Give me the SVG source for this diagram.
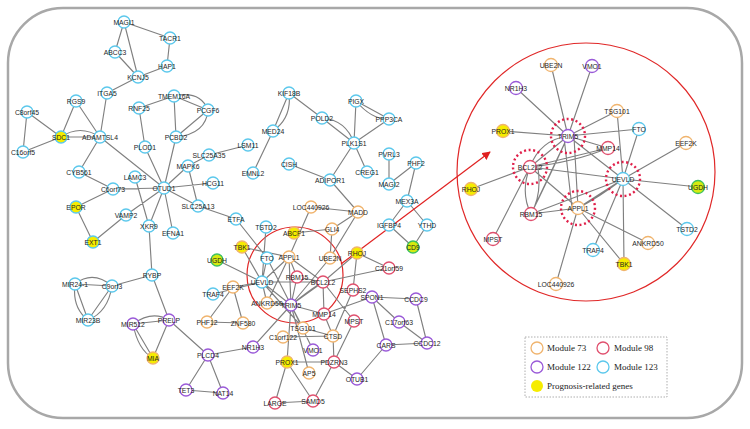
<svg xmlns="http://www.w3.org/2000/svg" width="750" height="429" viewBox="0 0 750 429">
<defs>
<style>
.e{stroke:#808080;stroke-width:1.15;fill:none}
.n{stroke-width:1.3;fill:#fff}
.c{stroke:#5cc8ec}.o{stroke:#f0b46e}.r{stroke:#e0506e}.p{stroke:#9a5ad8}
.y{fill:#f6ec00}.g{fill:#d6ea10;stroke:#3cc060}
.t{font-family:"Liberation Sans",Arial,sans-serif;font-size:6.8px;fill:#1e1e1e;text-anchor:middle;dominant-baseline:central}
.d{fill:none;stroke:#e0204a;stroke-width:2.4;stroke-dasharray:2 2.6}
.lg{font-family:"Liberation Serif","Times New Roman",serif;font-size:9px;fill:#222}
</style>
<marker id="ah" viewBox="0 0 10 10" refX="9" refY="5" markerWidth="7" markerHeight="7" orient="auto"><path d="M0,0L10,5L0,10z" fill="#e02020"/></marker>
</defs>
<rect x="8" y="8" width="734" height="410" rx="55" fill="#fff" stroke="#a8a8a8" stroke-width="2.5"/>
<circle cx="295" cy="275" r="48" fill="none" stroke="#e02828" stroke-width="1.2"/>
<circle cx="586" cy="172" r="129" fill="none" stroke="#e02828" stroke-width="1.2"/>
<g id="connectors">
<path class="e" d="M124,22L115,52M124,22L138,77M124,22L170,38M115,52L138,77M138,77L167,66M170,38L167,66M138,77L107,93M107,93L100,137M76,101L61,137M76,101L100,137M27,112L61,137M27,112L23,152M23,152L61,137M61,137L100,137M61,137Q80,124 100,137M100,137L79,172M100,137L164,188M79,172L113,189M113,189L164,188M113,189L76,207M76,207L93,242M93,242L126,215M126,215L164,188M135,177L149,226M149,226L164,188M149,226L152,275M139,108L145,147M139,108L174,96M174,96L208,110M174,96Q200,90 208,110M174,96L176,137M208,110L176,137M208,110Q206,134 176,137M176,137L164,188M145,147L164,188M164,188L188,166M164,188L213,183M164,188L198,206M164,188L173,233M188,166L209,155M188,166L198,206M209,155L248,145M273,131L253,173M289,93L273,131M289,93Q292,118 273,131M289,93L322,118M322,118L354,143M322,118Q346,120 354,143M356,101L354,143M356,101L389,119M356,101Q372,120 389,119M389,119L354,143M354,143L367,172M354,143L330,180M389,154L389,184M416,163L389,184M416,163L407,201M289,164L330,180M330,180L358,212M407,201L389,225M407,201L427,225M389,225L413,247M427,225L413,247M198,206L236,219M236,219L267,258M152,275L112,286M152,275L169,320M75,284L112,286M75,284Q93,270 112,286M75,284L88,320M75,284Q72,308 88,320M112,286L88,320M112,286Q108,312 88,320M133,324L169,320M133,324Q152,310 169,320M133,324L153,358M133,324Q138,350 153,358M169,320L153,358M169,320L208,355M208,355L253,347M208,355L186,390M208,355L223,393M186,390L223,393M253,347L291,305M207,322L243,323M207,322L233,287M243,323L233,287M213,294L262,282M217,260L262,282M242,247L262,282M242,247L289,257M266,227L262,282M267,258L262,282M267,258L291,305M262,282L233,287M262,282L323,282M262,282L289,257M262,282L291,305M262,282L303,328M262,282L267,303M289,257L297,277M289,257L323,282M289,257L291,305M289,257L267,303M289,257L311,207M294,233L332,229M311,207L358,212M358,212L332,229M358,212L330,258M332,229L330,258M291,305L330,258M291,305L323,282M291,305Q312,288 323,282M291,305L297,277M291,305L324,314M291,305L303,328M291,305L287,362M291,305L313,350M291,305L267,303M291,305L309,373M323,282L324,314M323,282L357,253M323,282L354,321M323,282L297,277M323,282L389,268M357,253L389,268M357,253L353,290M353,290L333,336M324,314L372,297M324,314L333,336M303,328L333,336M283,337L333,336M333,336L334,362M354,321L334,362M334,362L357,379M287,362L334,362M287,362L275,403M287,362L313,401M275,403L313,401M313,401L334,362M372,297L416,299M372,297L399,322M372,297L386,345M399,322L427,343M416,299L427,343M386,345L427,343M386,345L357,379"/>
<path class="e" d="M568,136L551,65M568,136L592,66M568,136L516,88M568,136L617,111M568,136L503,131M568,136L639,129M568,136L608,148M568,136L530,167M568,136Q540,140 530,167M568,136L531,214M568,136Q548,180 531,214M574,137L578,208M564,137L572,208M568,136L623,179M530,167L608,148M530,167Q575,162 608,148M530,167L623,179M530,167L471,189M530,167Q520,192 531,214M538,168Q542,195 531,214M530,167L493,239M530,167L578,208M617,111L623,179M639,129L623,179M686,143L623,179M623,179L698,187M623,179L687,229M623,179L593,250M623,179L624,264M623,179L578,208M623,179Q598,198 578,208M623,179L531,214M578,208L648,243M578,208L624,264M578,208L556,284M578,208L531,214"/>
<path d="M341,264L490,152" stroke="#e02020" stroke-width="1.2" fill="none" marker-end="url(#ah)"/>
</g>
<g id="hubs">
<circle class="d" cx="568" cy="136" r="17"/><circle class="d" cx="530" cy="167" r="17"/><circle class="d" cx="623" cy="179" r="17"/><circle class="d" cx="578" cy="208" r="17"/>
</g>
<g id="nodes">
<g id="n-MAGI1"><circle class="n c" cx="124" cy="22" r="6"/><text class="t" x="124" y="22">MAGI1</text></g>
<g id="n-TACR1"><circle class="n c" cx="170" cy="38" r="6"/><text class="t" x="170" y="38">TACR1</text></g>
<g id="n-ABCC3"><circle class="n c" cx="115" cy="52" r="6"/><text class="t" x="115" y="52">ABCC3</text></g>
<g id="n-HAP1"><circle class="n c" cx="167" cy="66" r="6"/><text class="t" x="167" y="66">HAP1</text></g>
<g id="n-KCNJ5"><circle class="n c" cx="138" cy="77" r="6"/><text class="t" x="138" y="77">KCNJ5</text></g>
<g id="n-ITGA5"><circle class="n c" cx="107" cy="93" r="6"/><text class="t" x="107" y="93">ITGA5</text></g>
<g id="n-RGS9"><circle class="n c" cx="76" cy="101" r="6"/><text class="t" x="76" y="101">RGS9</text></g>
<g id="n-C8orf45"><circle class="n c" cx="27" cy="112" r="6"/><text class="t" x="27" y="112">C8orf45</text></g>
<g id="n-RNF25"><circle class="n c" cx="139" cy="108" r="6"/><text class="t" x="139" y="108">RNF25</text></g>
<g id="n-TMEM16A"><circle class="n c" cx="174" cy="96" r="6"/><text class="t" x="174" y="96">TMEM16A</text></g>
<g id="n-PCGF6"><circle class="n c" cx="208" cy="110" r="6"/><text class="t" x="208" y="110">PCGF6</text></g>
<g id="n-SDC1"><circle class="n c y" cx="61" cy="137" r="6"/><text class="t" x="61" y="137">SDC1</text></g>
<g id="n-ADAMTSL4"><circle class="n c" cx="100" cy="137" r="6"/><text class="t" x="100" y="137">ADAMTSL4</text></g>
<g id="n-C16orf5"><circle class="n c" cx="23" cy="152" r="6"/><text class="t" x="23" y="152">C16orf5</text></g>
<g id="n-PLOD1"><circle class="n c" cx="145" cy="147" r="6"/><text class="t" x="145" y="147">PLOD1</text></g>
<g id="n-PCBD2"><circle class="n c" cx="176" cy="137" r="6"/><text class="t" x="176" y="137">PCBD2</text></g>
<g id="n-KIF18B"><circle class="n c" cx="289" cy="93" r="6"/><text class="t" x="289" y="93">KIF18B</text></g>
<g id="n-MED24"><circle class="n c" cx="273" cy="131" r="6"/><text class="t" x="273" y="131">MED24</text></g>
<g id="n-LSM11"><circle class="n c" cx="248" cy="145" r="6"/><text class="t" x="248" y="145">LSM11</text></g>
<g id="n-SLC25A35"><circle class="n c" cx="209" cy="155" r="6"/><text class="t" x="209" y="155">SLC25A35</text></g>
<g id="n-PIGX"><circle class="n c" cx="356" cy="101" r="6"/><text class="t" x="356" y="101">PIGX</text></g>
<g id="n-POLD2"><circle class="n c" cx="322" cy="118" r="6"/><text class="t" x="322" y="118">POLD2</text></g>
<g id="n-PPP3CA"><circle class="n c" cx="389" cy="119" r="6"/><text class="t" x="389" y="119">PPP3CA</text></g>
<g id="n-PLK1S1"><circle class="n c" cx="354" cy="143" r="6"/><text class="t" x="354" y="143">PLK1S1</text></g>
<g id="n-PVRL3"><circle class="n c" cx="389" cy="154" r="6"/><text class="t" x="389" y="154">PVRL3</text></g>
<g id="n-PHF2"><circle class="n c" cx="416" cy="163" r="6"/><text class="t" x="416" y="163">PHF2</text></g>
<g id="n-CREG1"><circle class="n c" cx="367" cy="172" r="6"/><text class="t" x="367" y="172">CREG1</text></g>
<g id="n-CISH"><circle class="n c" cx="289" cy="164" r="6"/><text class="t" x="289" y="164">CISH</text></g>
<g id="n-ADIPOR1"><circle class="n c" cx="330" cy="180" r="6"/><text class="t" x="330" y="180">ADIPOR1</text></g>
<g id="n-MAGI2"><circle class="n c" cx="389" cy="184" r="6"/><text class="t" x="389" y="184">MAGI2</text></g>
<g id="n-MAPK6"><circle class="n c" cx="188" cy="166" r="6"/><text class="t" x="188" y="166">MAPK6</text></g>
<g id="n-EMNL2"><circle class="n c" cx="253" cy="173" r="6"/><text class="t" x="253" y="173">EMNL2</text></g>
<g id="n-HCG11"><circle class="n c" cx="213" cy="183" r="6"/><text class="t" x="213" y="183">HCG11</text></g>
<g id="n-OTUD1"><circle class="n c" cx="164" cy="188" r="6"/><text class="t" x="164" y="188">OTUD1</text></g>
<g id="n-LAMC3"><circle class="n c" cx="135" cy="177" r="6"/><text class="t" x="135" y="177">LAMC3</text></g>
<g id="n-CYB561"><circle class="n c" cx="79" cy="172" r="6"/><text class="t" x="79" y="172">CYB561</text></g>
<g id="n-C6orf73"><circle class="n c" cx="113" cy="189" r="6"/><text class="t" x="113" y="189">C6orf73</text></g>
<g id="n-SLC25A13"><circle class="n c" cx="198" cy="206" r="6"/><text class="t" x="198" y="206">SLC25A13</text></g>
<g id="n-ETFA"><circle class="n c" cx="236" cy="219" r="6"/><text class="t" x="236" y="219">ETFA</text></g>
<g id="n-XKR9"><circle class="n c" cx="149" cy="226" r="6"/><text class="t" x="149" y="226">XKR9</text></g>
<g id="n-EFNA1"><circle class="n c" cx="173" cy="233" r="6"/><text class="t" x="173" y="233">EFNA1</text></g>
<g id="n-EPOR"><circle class="n c y" cx="76" cy="207" r="6"/><text class="t" x="76" y="207">EPOR</text></g>
<g id="n-VAMP2"><circle class="n c" cx="126" cy="215" r="6"/><text class="t" x="126" y="215">VAMP2</text></g>
<g id="n-EXT1"><circle class="n c y" cx="93" cy="242" r="6"/><text class="t" x="93" y="242">EXT1</text></g>
<g id="n-RYBP"><circle class="n c" cx="152" cy="275" r="6"/><text class="t" x="152" y="275">RYBP</text></g>
<g id="n-MIR24-1"><circle class="n c" cx="75" cy="284" r="6"/><text class="t" x="75" y="284">MIR24-1</text></g>
<g id="n-C9orf3"><circle class="n c" cx="112" cy="286" r="6"/><text class="t" x="112" y="286">C9orf3</text></g>
<g id="n-MIR23B"><circle class="n c" cx="88" cy="320" r="6"/><text class="t" x="88" y="320">MIR23B</text></g>
<g id="n-TSTD2"><circle class="n c" cx="266" cy="227" r="6"/><text class="t" x="266" y="227">TSTD2</text></g>
<g id="n-FTO"><circle class="n c" cx="267" cy="258" r="6"/><text class="t" x="267" y="258">FTO</text></g>
<g id="n-UEVLD"><circle class="n c" cx="262" cy="282" r="6"/><text class="t" x="262" y="282">UEVLD</text></g>
<g id="n-TRAF4"><circle class="n c" cx="213" cy="294" r="6"/><text class="t" x="213" y="294">TRAF4</text></g>
<g id="n-MEX3A"><circle class="n c" cx="407" cy="201" r="6"/><text class="t" x="407" y="201">MEX3A</text></g>
<g id="n-IGFBP4"><circle class="n c" cx="389" cy="225" r="6"/><text class="t" x="389" y="225">IGFBP4</text></g>
<g id="n-YTHD"><circle class="n c" cx="427" cy="225" r="6"/><text class="t" x="427" y="225">YTHD</text></g>
<g id="n-CD9"><circle class="n g" cx="413" cy="247" r="6"/><text class="t" x="413" y="247">CD9</text></g>
<g id="n-UGDH"><circle class="n g" cx="217" cy="260" r="6"/><text class="t" x="217" y="260">UGDH</text></g>
<g id="n-TBK1"><circle class="n o y" cx="242" cy="247" r="6"/><text class="t" x="242" y="247">TBK1</text></g>
<g id="n-LOC440926"><circle class="n o" cx="311" cy="207" r="6"/><text class="t" x="311" y="207">LOC440926</text></g>
<g id="n-MADD"><circle class="n o" cx="358" cy="212" r="6"/><text class="t" x="358" y="212">MADD</text></g>
<g id="n-GLI4"><circle class="n o" cx="332" cy="229" r="6"/><text class="t" x="332" y="229">GLI4</text></g>
<g id="n-ABCF1"><circle class="n o y" cx="294" cy="233" r="6"/><text class="t" x="294" y="233">ABCF1</text></g>
<g id="n-APPL1"><circle class="n o" cx="289" cy="257" r="6"/><text class="t" x="289" y="257">APPL1</text></g>
<g id="n-UBE2N"><circle class="n o" cx="330" cy="258" r="6"/><text class="t" x="330" y="258">UBE2N</text></g>
<g id="n-RHOJ"><circle class="n o y" cx="357" cy="253" r="6"/><text class="t" x="357" y="253">RHOJ</text></g>
<g id="n-EEF2K"><circle class="n o" cx="233" cy="287" r="6"/><text class="t" x="233" y="287">EEF2K</text></g>
<g id="n-ANKRD50"><circle class="n o" cx="267" cy="303" r="6"/><text class="t" x="267" y="303">ANKRD50</text></g>
<g id="n-PHF12"><circle class="n o" cx="207" cy="322" r="6"/><text class="t" x="207" y="322">PHF12</text></g>
<g id="n-ZNF580"><circle class="n o" cx="243" cy="323" r="6"/><text class="t" x="243" y="323">ZNF580</text></g>
<g id="n-TSG101"><circle class="n o" cx="303" cy="328" r="6"/><text class="t" x="303" y="328">TSG101</text></g>
<g id="n-C1orf122"><circle class="n o" cx="283" cy="337" r="6"/><text class="t" x="283" y="337">C1orf122</text></g>
<g id="n-CTSD"><circle class="n o" cx="333" cy="336" r="6"/><text class="t" x="333" y="336">CTSD</text></g>
<g id="n-PROX1"><circle class="n o y" cx="287" cy="362" r="6"/><text class="t" x="287" y="362">PROX1</text></g>
<g id="n-AP5"><circle class="n o" cx="309" cy="373" r="6"/><text class="t" x="309" y="373">AP5</text></g>
<g id="n-MIA"><circle class="n o y" cx="153" cy="358" r="6"/><text class="t" x="153" y="358">MIA</text></g>
<g id="n-RBM15"><circle class="n r" cx="297" cy="277" r="6"/><text class="t" x="297" y="277">RBM15</text></g>
<g id="n-BCL2L2"><circle class="n r" cx="323" cy="282" r="6"/><text class="t" x="323" y="282">BCL2L2</text></g>
<g id="n-C21orf59"><circle class="n r" cx="389" cy="268" r="6"/><text class="t" x="389" y="268">C21orf59</text></g>
<g id="n-SEPHS2"><circle class="n r" cx="353" cy="290" r="6"/><text class="t" x="353" y="290">SEPHS2</text></g>
<g id="n-MMP14"><circle class="n r" cx="324" cy="314" r="6"/><text class="t" x="324" y="314">MMP14</text></g>
<g id="n-MPST"><circle class="n r" cx="354" cy="321" r="6"/><text class="t" x="354" y="321">MPST</text></g>
<g id="n-PDZRN3"><circle class="n r" cx="334" cy="362" r="6"/><text class="t" x="334" y="362">PDZRN3</text></g>
<g id="n-LARGE"><circle class="n r" cx="275" cy="403" r="6"/><text class="t" x="275" y="403">LARGE</text></g>
<g id="n-SAMD5"><circle class="n r" cx="313" cy="401" r="6"/><text class="t" x="313" y="401">SAMD5</text></g>
<g id="n-TRIM5"><circle class="n p" cx="291" cy="305" r="6"/><text class="t" x="291" y="305">TRIM5</text></g>
<g id="n-SPON1"><circle class="n p" cx="372" cy="297" r="6"/><text class="t" x="372" y="297">SPON1</text></g>
<g id="n-CCDC9"><circle class="n p" cx="416" cy="299" r="6"/><text class="t" x="416" y="299">CCDC9</text></g>
<g id="n-C17orf63"><circle class="n p" cx="399" cy="322" r="6"/><text class="t" x="399" y="322">C17orf63</text></g>
<g id="n-CARS"><circle class="n p" cx="386" cy="345" r="6"/><text class="t" x="386" y="345">CARS</text></g>
<g id="n-CCDC12"><circle class="n p" cx="427" cy="343" r="6"/><text class="t" x="427" y="343">CCDC12</text></g>
<g id="n-OTUB1"><circle class="n p" cx="357" cy="379" r="6"/><text class="t" x="357" y="379">OTUB1</text></g>
<g id="n-NR1H3"><circle class="n p" cx="253" cy="347" r="6"/><text class="t" x="253" y="347">NR1H3</text></g>
<g id="n-VMO1"><circle class="n p" cx="313" cy="350" r="6"/><text class="t" x="313" y="350">VMO1</text></g>
<g id="n-PLCD4"><circle class="n p" cx="208" cy="355" r="6"/><text class="t" x="208" y="355">PLCD4</text></g>
<g id="n-TET3"><circle class="n p" cx="186" cy="390" r="6"/><text class="t" x="186" y="390">TET3</text></g>
<g id="n-NAT14"><circle class="n p" cx="223" cy="393" r="6"/><text class="t" x="223" y="393">NAT14</text></g>
<g id="n-MIR512"><circle class="n p" cx="133" cy="324" r="6"/><text class="t" x="133" y="324">MIR512</text></g>
<g id="n-PRELP"><circle class="n p" cx="169" cy="320" r="6"/><text class="t" x="169" y="320">PRELP</text></g>
</g>
<g id="zoom-nodes">
<g id="z-TRIM5"><circle class="n p" cx="568" cy="136" r="6.5"/><text class="t" x="568" y="136">TRIM5</text></g>
<g id="z-UBE2N"><circle class="n o" cx="551" cy="65" r="6.5"/><text class="t" x="551" y="65">UBE2N</text></g>
<g id="z-VMO1"><circle class="n p" cx="592" cy="66" r="6.5"/><text class="t" x="592" y="66">VMO1</text></g>
<g id="z-NR1H3"><circle class="n p" cx="516" cy="88" r="6.5"/><text class="t" x="516" y="88">NR1H3</text></g>
<g id="z-TSG101"><circle class="n o" cx="617" cy="111" r="6.5"/><text class="t" x="617" y="111">TSG101</text></g>
<g id="z-PROX1"><circle class="n o y" cx="503" cy="131" r="6.5"/><text class="t" x="503" y="131">PROX1</text></g>
<g id="z-FTO"><circle class="n c" cx="639" cy="129" r="6.5"/><text class="t" x="639" y="129">FTO</text></g>
<g id="z-EEF2K"><circle class="n o" cx="686" cy="143" r="6.5"/><text class="t" x="686" y="143">EEF2K</text></g>
<g id="z-MMP14"><circle class="n r" cx="608" cy="148" r="6.5"/><text class="t" x="608" y="148">MMP14</text></g>
<g id="z-BCL2L2"><circle class="n r" cx="530" cy="167" r="6.5"/><text class="t" x="530" y="167">BCL2L2</text></g>
<g id="z-UEVLD"><circle class="n c" cx="623" cy="179" r="6.5"/><text class="t" x="623" y="179">UEVLD</text></g>
<g id="z-RHOJ"><circle class="n o y" cx="471" cy="189" r="6.5"/><text class="t" x="471" y="189">RHOJ</text></g>
<g id="z-UGDH"><circle class="n g" cx="698" cy="187" r="6.5"/><text class="t" x="698" y="187">UGDH</text></g>
<g id="z-APPL1"><circle class="n o" cx="578" cy="208" r="6.5"/><text class="t" x="578" y="208">APPL1</text></g>
<g id="z-RBM15"><circle class="n r" cx="531" cy="214" r="6.5"/><text class="t" x="531" y="214">RBM15</text></g>
<g id="z-TSTD2"><circle class="n c" cx="687" cy="229" r="6.5"/><text class="t" x="687" y="229">TSTD2</text></g>
<g id="z-MPST"><circle class="n r" cx="493" cy="239" r="6.5"/><text class="t" x="493" y="239">MPST</text></g>
<g id="z-ANKRD50"><circle class="n o" cx="648" cy="243" r="6.5"/><text class="t" x="648" y="243">ANKRD50</text></g>
<g id="z-TRAF4"><circle class="n c" cx="593" cy="250" r="6.5"/><text class="t" x="593" y="250">TRAF4</text></g>
<g id="z-TBK1"><circle class="n o y" cx="624" cy="264" r="6.5"/><text class="t" x="624" y="264">TBK1</text></g>
<g id="z-LOC440926"><circle class="n o" cx="556" cy="284" r="6.5"/><text class="t" x="556" y="284">LOC440926</text></g>
</g>
<g id="legend">
<rect x="525" y="337" width="142" height="60" fill="#fff" stroke="#999" stroke-width="0.8" stroke-dasharray="1.5 1.5"/>
<circle class="n o" cx="537" cy="348" r="6"/><text class="lg" x="547" y="351">Module 73</text>
<circle class="n r" cx="603" cy="348" r="6"/><text class="lg" x="614" y="351">Module 98</text>
<circle class="n p" cx="537" cy="367" r="6"/><text class="lg" x="547" y="370">Module 122</text>
<circle class="n c" cx="603" cy="367" r="6"/><text class="lg" x="614" y="370">Module 123</text>
<circle cx="537" cy="386" r="6" fill="#f6ec00"/><text class="lg" x="547" y="389">Prognosis-related genes</text>
</g>
</svg>
